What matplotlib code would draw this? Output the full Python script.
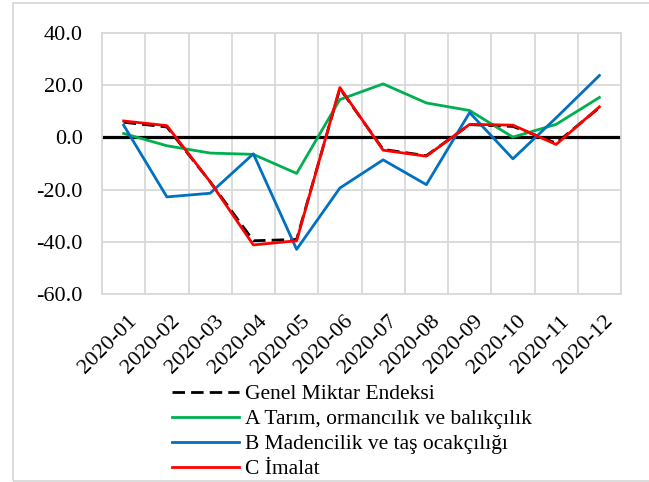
import numpy as np
import matplotlib
matplotlib.use('Agg')
import matplotlib.pyplot as plt
from matplotlib.patches import Rectangle
from matplotlib.transforms import ScaledTranslation

plt.rcParams['font.family'] = ['Liberation Serif', 'DejaVu Serif']

# data
months = ['2020-01', '2020-02', '2020-03', '2020-04', '2020-05', '2020-06',
          '2020-07', '2020-08', '2020-09', '2020-10', '2020-11', '2020-12']
genel = [5.8, 4.0, -17.0, -39.6, -39.1, 18.7, -4.6, -7.0, 4.9, 4.2, -2.2, 11.4]
tarim = [1.5, -3.2, -6.0, -6.5, -13.8, 14.5, 20.5, 13.2, 10.3, 0.1, 5.0, 15.3]
maden = [4.7, -22.8, -21.4, -6.3, -42.9, -19.4, -8.6, -18.1, 9.5, -8.2, 7.5, 23.7]
imalat = [6.3, 4.5, -17.0, -41.2, -39.6, 19.1, -4.9, -7.2, 5.0, 4.7, -2.7, 11.7]

W, H = 649, 482
fig = plt.figure(figsize=(W/100, H/100), dpi=100)
ax = fig.add_axes([102/W, 1-294/H, 519/W, 261/H])

x = np.arange(len(months))
grid_c = '#d9d9d9'
lw = 2.0

ax.plot(x, genel, color='black', lw=lw, dashes=(4.5, 2.2), label='Genel Miktar Endeksi', zorder=3)
ax.plot(x, tarim, color='#00b050', lw=lw, label='A Tarım, ormancılık ve balıkçılık', zorder=3)
ax.plot(x, maden, color='#0070c0', lw=lw, label='B Madencilik ve taş ocakçılığı', zorder=3)
ax.plot(x, imalat, color='#ff0000', lw=lw, label='C İmalat', zorder=4)
ax.axhline(0, color='black', lw=2.3, zorder=2)

ax.set_xlim(-0.5, 11.5)
ax.set_ylim(-60, 40)
ax.set_yticks(np.arange(-60, 41, 20))
ax.set_yticklabels([f'{v:.1f}' for v in np.arange(-60, 41, 20)], fontsize=16)
ax.set_xticks(x)
ax.set_xticklabels(months, fontsize=16, rotation=45, ha='right', rotation_mode='anchor')
ax.set_xticks(np.arange(-0.5, 12), minor=True)
ax.tick_params(axis='both', which='both', length=0)
ax.tick_params(axis='y', pad=14)
ax.tick_params(axis='x', pad=13)
shift = ScaledTranslation(4/100, 0, fig.dpi_scale_trans)
for lab in ax.get_xticklabels():
    lab.set_transform(lab.get_transform() + shift)
ax.grid(axis='y', which='major', color=grid_c, lw=1.3, zorder=0)
ax.grid(axis='x', which='minor', color=grid_c, lw=1.3, zorder=0)
for s in ax.spines.values():
    s.set_color(grid_c)
    s.set_linewidth(1.3)

# outer chart border
fig.add_artist(Rectangle((13/W, 1/H), 1.1, 478/H, transform=fig.transFigure,
                         fill=False, ec=grid_c, lw=1.3))

fig.legend(loc='upper left', bbox_to_anchor=(172/W, 1-384/H), frameon=False,
           fontsize=15.5, handlelength=3.1, handletextpad=0.3, labelspacing=0.23,
           borderpad=0, borderaxespad=0)

fig.savefig('out.png', dpi=100)
